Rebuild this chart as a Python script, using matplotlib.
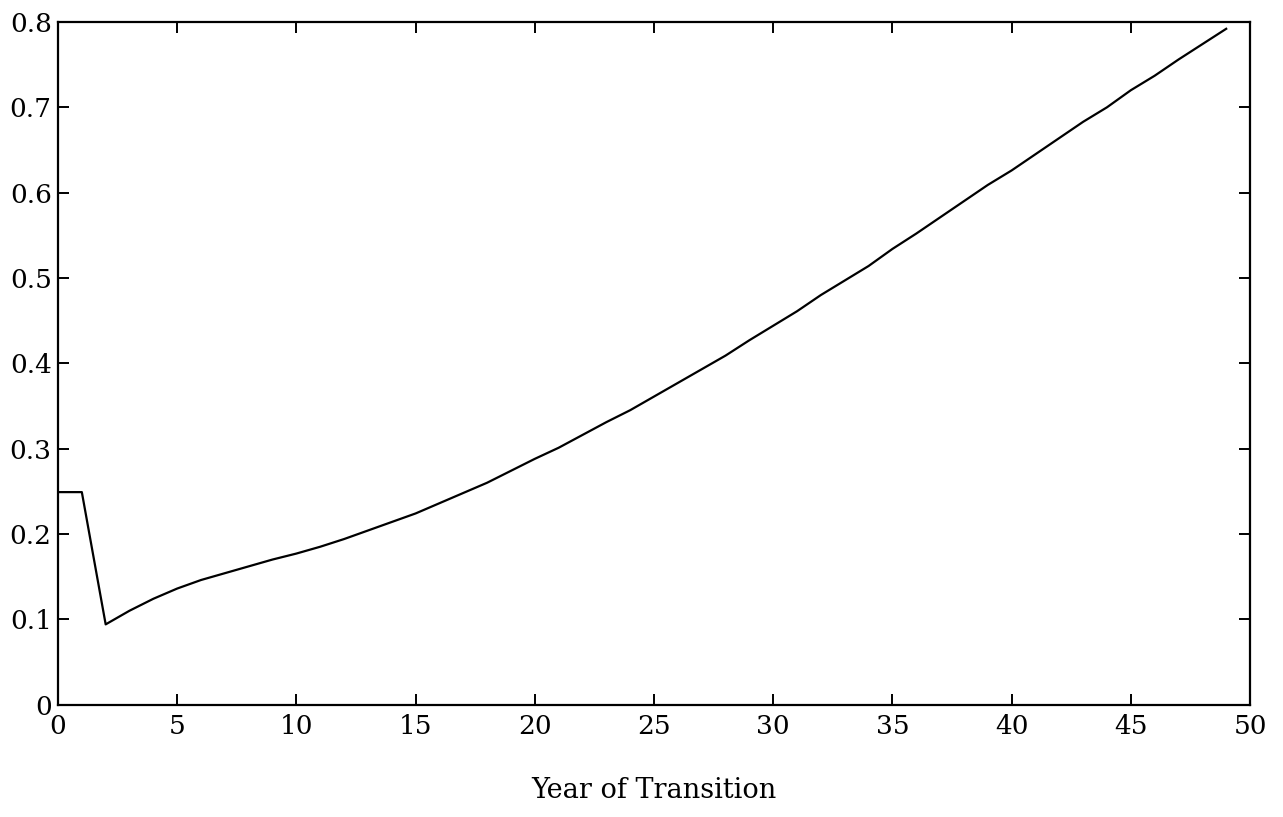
import matplotlib
matplotlib.use("Agg")
import matplotlib.pyplot as plt

years = list(range(0, 50))
values = [0.249, 0.249, 0.094, 0.110, 0.124, 0.136, 0.146, 0.154, 0.162, 0.170,
          0.177, 0.185, 0.194, 0.204, 0.214, 0.224, 0.236, 0.248, 0.260, 0.274,
          0.288, 0.301, 0.316, 0.331, 0.345, 0.361, 0.377, 0.393, 0.409, 0.427,
          0.444, 0.461, 0.480, 0.497, 0.514, 0.534, 0.552, 0.571, 0.590, 0.609,
          0.626, 0.645, 0.664, 0.683, 0.700, 0.720, 0.737, 0.756, 0.774, 0.792]

xticks = [0, 5, 10, 15, 20, 25, 30, 35, 40, 45, 50]
yticks = [0, 0.1, 0.2, 0.3, 0.4, 0.5, 0.6, 0.7, 0.8]
ytick_labels = ["0", "0.1", "0.2", "0.3", "0.4", "0.5", "0.6", "0.7", "0.8"]

plt.rcParams['font.family'] = ['DejaVu Serif']

fig = plt.figure(figsize=(12.83, 8.17), dpi=100)
ax = fig.add_axes([0.0452, 0.1376, 0.9291, 0.8355])

ax.plot(years, values, color='black', linewidth=1.6)

ax.set_xlim(0, 50)
ax.set_ylim(0, 0.8)
ax.set_xticks(xticks)
ax.set_yticks(yticks)
ax.set_yticklabels(ytick_labels)
ax.tick_params(direction='in', length=8, width=1.4, labelsize=19,
               top=True, right=True, pad=4.5)
ax.tick_params(axis='x', pad=7)
for s in ax.spines.values():
    s.set_linewidth(1.6)

ax.set_xlabel("Year of Transition", fontsize=19.5, labelpad=27)

fig.savefig("out.png", dpi=100)
